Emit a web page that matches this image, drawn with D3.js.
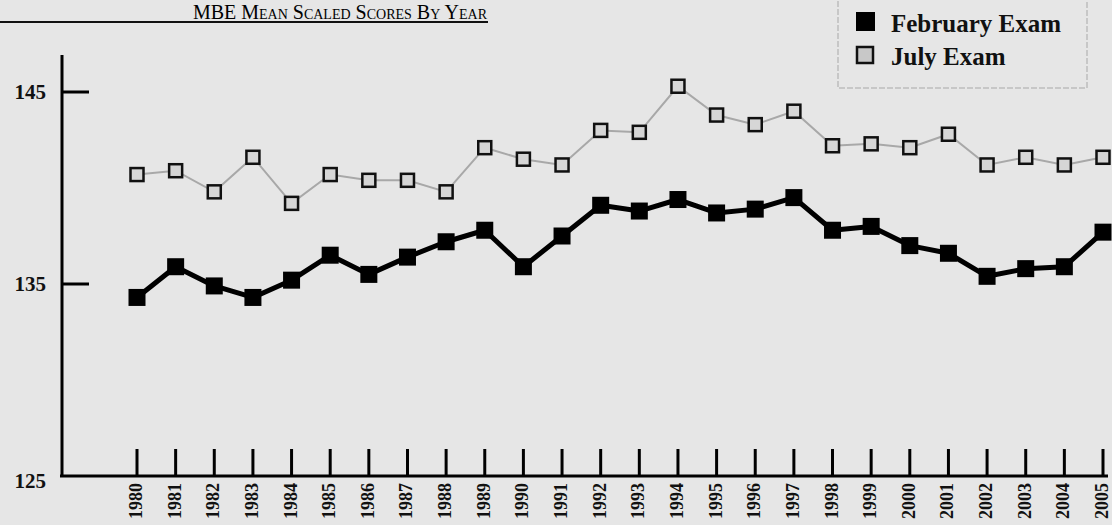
<!DOCTYPE html>
<html>
<head>
<meta charset="utf-8">
<script src="https://cdn.jsdelivr.net/npm/d3@7"></script>
<style>
    html, body { margin: 0; padding: 0; background: #e6e6e6; }
    svg { display: block; }
</style>
</head>
<body>
<svg id="chart"></svg>
<script>

const years = d3.range(1980, 2006)

const february = [134.3, 135.9, 134.9, 134.3, 135.2, 136.5, 135.5, 136.4, 137.2, 137.8,
                  135.9, 137.5, 139.1, 138.8, 139.4, 138.7, 138.9, 139.5, 137.8, 138.0,
                  137.0, 136.6, 135.4, 135.8, 135.9, 137.7]

const july = [140.7, 140.9, 139.8, 141.6, 139.2, 140.7, 140.4, 140.4, 139.8, 142.1,
              141.5, 141.2, 143.0, 142.9, 145.3, 143.8, 143.3, 144.0, 142.2, 142.3,
              142.1, 142.8, 141.2, 141.6, 141.2, 141.6]

const yTicks = [125, 135, 145]

const seriesNames = ['February Exam', 'July Exam']

const title = 'MBE Mean Scaled Scores By Year'

const width = 1112
const height = 525
const serif = '"Liberation Serif", "DejaVu Serif", serif'

const svg = d3.select('#chart')
    .attr('width', width)
    .attr('height', height)

svg.append('rect')
    .attr('width', width)
    .attr('height', height)
    .attr('fill', '#e6e6e6')

const x = d3.scaleLinear().domain([1980, 2005]).range([137, 1103])

const y = d3.scaleLinear().domain([125, 145]).range([476, 92])

// title + underline
svg.append('text')
    .attr('x', 487)
    .attr('y', 19)
    .attr('text-anchor', 'end')
    .attr('font-family', serif)
    .attr('font-size', '20px')
    .attr('font-variant', 'small-caps')
    .attr('fill', '#000')
    .text(title)

svg.append('line')
    .attr('x1', 0).attr('x2', 488)
    .attr('y1', 22).attr('y2', 22)
    .attr('stroke', '#111')
    .attr('stroke-width', 2)

// axes
svg.append('line')
    .attr('x1', 62).attr('x2', 62)
    .attr('y1', 55).attr('y2', y(125))
    .attr('stroke', '#000')
    .attr('stroke-width', 3)

svg.append('line')
    .attr('x1', 60).attr('x2', 1108)
    .attr('y1', y(125)).attr('y2', y(125))
    .attr('stroke', '#000')
    .attr('stroke-width', 3)

svg.append('g')
    .selectAll('line')
    .data(yTicks.filter(d => d > 125))
    .enter().append('line')
    .attr('x1', 63).attr('x2', 89)
    .attr('y1', d => y(d)).attr('y2', d => y(d))
    .attr('stroke', '#000')
    .attr('stroke-width', 3)

svg.append('g')
    .selectAll('text')
    .data(yTicks)
    .enter().append('text')
    .attr('x', 46)
    .attr('y', d => y(d) + (d === 125 ? 12 : 7))
    .attr('text-anchor', 'end')
    .attr('font-family', serif)
    .attr('font-weight', 'bold')
    .attr('font-size', '21px')
    .attr('fill', '#111')
    .text(d => d)

svg.append('g')
    .selectAll('line')
    .data(years)
    .enter().append('line')
    .attr('x1', d => x(d)).attr('x2', d => x(d))
    .attr('y1', y(125) - 27).attr('y2', y(125))
    .attr('stroke', '#000')
    .attr('stroke-width', 3)

svg.append('g')
    .selectAll('text')
    .data(years)
    .enter().append('text')
    .attr('transform', d => `translate(${x(d) + 5},${y(125) + 7}) rotate(-90)`)
    .attr('text-anchor', 'end')
    .attr('font-family', serif)
    .attr('font-weight', 'bold')
    .attr('font-size', '18px')
    .attr('fill', '#111')
    .text(d => d)

// series
const line = d3.line()
    .x((d, i) => x(years[i]))
    .y(d => y(d))

svg.append('path')
    .datum(july)
    .attr('d', line)
    .attr('fill', 'none')
    .attr('stroke', '#a8a8a8')
    .attr('stroke-width', 2)

svg.append('g')
    .selectAll('rect')
    .data(july)
    .enter().append('rect')
    .attr('x', (d, i) => x(years[i]) - 6.5)
    .attr('y', d => y(d) - 6.5)
    .attr('width', 13)
    .attr('height', 13)
    .attr('fill', '#d6d6d6')
    .attr('stroke', '#111')
    .attr('stroke-width', 2.5)

svg.append('path')
    .datum(february)
    .attr('d', line)
    .attr('fill', 'none')
    .attr('stroke', '#000')
    .attr('stroke-width', 5)
    .attr('stroke-linejoin', 'round')

svg.append('g')
    .selectAll('rect')
    .data(february)
    .enter().append('rect')
    .attr('x', (d, i) => x(years[i]) - 8.5)
    .attr('y', d => y(d) - 8.5)
    .attr('width', 17)
    .attr('height', 17)
    .attr('fill', '#000')

// legend
const legend = svg.append('g')

legend.append('rect')
    .attr('x', 838)
    .attr('y', -5)
    .attr('width', 249)
    .attr('height', 93)
    .attr('fill', 'none')
    .attr('stroke', '#bdbdbd')
    .attr('stroke-width', 1.5)
    .attr('stroke-dasharray', '6,2')

legend.append('rect')
    .attr('x', 856).attr('y', 12)
    .attr('width', 19).attr('height', 19)
    .attr('fill', '#000')

legend.append('rect')
    .attr('x', 857).attr('y', 47)
    .attr('width', 16).attr('height', 16)
    .attr('fill', '#c8c8c8')
    .attr('stroke', '#111')
    .attr('stroke-width', 2.5)

legend.selectAll('text')
    .data(seriesNames)
    .enter().append('text')
    .attr('x', 891)
    .attr('y', (d, i) => 32 + i * 33)
    .attr('font-family', serif)
    .attr('font-weight', 'bold')
    .attr('font-size', '25px')
    .attr('fill', '#111')
    .text(d => d)

</script>
</body>
</html>
